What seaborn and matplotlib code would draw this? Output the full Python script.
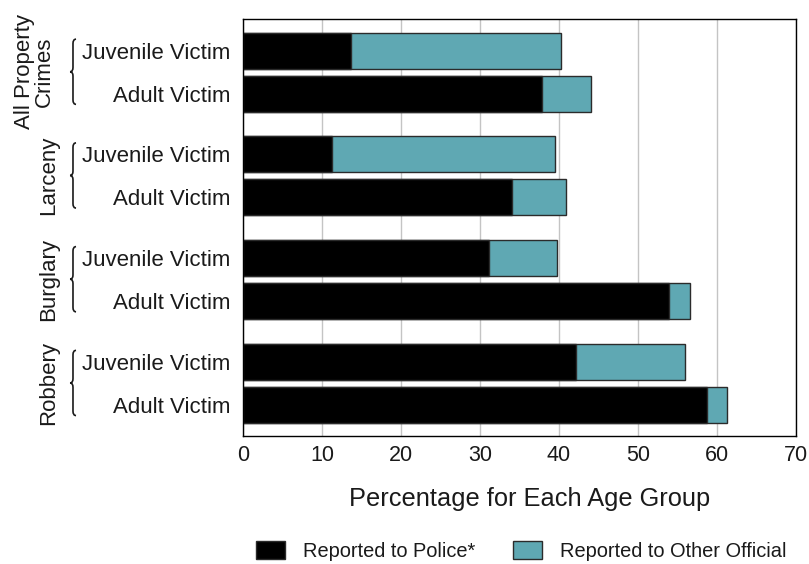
import numpy as np
import pandas as pd
import matplotlib
matplotlib.use("Agg")
import matplotlib.pyplot as plt
from matplotlib.path import Path
from matplotlib.patches import PathPatch, Patch
import seaborn as sns

# values
crime_groups = ["All Property\nCrimes", "Larceny", "Burglary", "Robbery"]
victim_labels = ["Juvenile Victim", "Adult Victim"]
police_juvenile = [13.7, 11.3, 31.1, 42.2]
other_juvenile = [26.6, 28.2, 8.6, 13.7]
police_adult = [37.8, 34.0, 53.9, 58.7]
other_adult = [6.2, 6.9, 2.7, 2.6]
x_ticks = [0, 10, 20, 30, 40, 50, 60, 70]

TEAL = "#5fa8b3"
EDGE = "#2b2b2b"
TEXT = "#1a1a1a"

sns.set_style("white")
plt.rcParams["font.family"] = ["Liberation Sans", "DejaVu Sans"]

# build a long table: one row per bar
group_step = 2.42
rows = []
for i, g in enumerate(crime_groups):
    base = i * group_step
    rows.append({"pos": base, "label": victim_labels[0],
                 "police": police_juvenile[i],
                 "total": police_juvenile[i] + other_juvenile[i]})
    rows.append({"pos": base + 1, "label": victim_labels[1],
                 "police": police_adult[i],
                 "total": police_adult[i] + other_adult[i]})
df = pd.DataFrame(rows)

fig = plt.figure(figsize=(8.09, 5.64), dpi=100)
ax = fig.add_axes([0.3004, 0.2275, 0.6835, 0.7388])

# teal = total (police + other official), black police share drawn on top
sns.barplot(data=df, x="total", y="pos", orient="y", native_scale=True,
            color=TEAL, saturation=1, width=0.84, errorbar=None,
            edgecolor=EDGE, linewidth=1.0, ax=ax)
sns.barplot(data=df, x="police", y="pos", orient="y", native_scale=True,
            color="black", saturation=1, width=0.84, errorbar=None,
            edgecolor=EDGE, linewidth=1.0, ax=ax)

ax.set_xlim(0, 70)
ax.set_ylim(df["pos"].max() + 0.72, -0.74)
ax.set_xticks(x_ticks)
ax.set_xticklabels([str(t) for t in x_ticks], fontsize=15.5, color=TEXT)
ax.set_yticks(df["pos"])
ax.set_yticklabels(df["label"], fontsize=16, color=TEXT)
ax.tick_params(axis="both", length=0)
ax.tick_params(axis="x", pad=7)
ax.tick_params(axis="y", pad=9)
ax.set_ylabel("")
ax.set_xlabel("Percentage for Each Age Group", fontsize=18.3, color=TEXT)
ax.xaxis.set_label_coords(0.518, -0.152)
ax.xaxis.label.set_va("center")

ax.xaxis.grid(True, color="#c4c4c4", linewidth=1.0)
ax.set_axisbelow(True)
for sp in ax.spines.values():
    sp.set_color("black")
    sp.set_linewidth(1.0)

# group labels with curly braces
trans = ax.get_yaxis_transform()
xr, xm, xl = -0.302, -0.3075, -0.3128
r = 0.1
for i, g in enumerate(crime_groups):
    y0 = i * group_step - 0.27
    y1 = i * group_step + 1 + 0.25
    ym = (y0 + y1) / 2
    verts = [(xr, y0), (xm, y0), (xm, y0 + r), (xm, ym - r), (xm, ym), (xl, ym),
             (xm, ym), (xm, ym + r), (xm, y1 - r), (xm, y1), (xr, y1)]
    codes = [Path.MOVETO, Path.CURVE3, Path.CURVE3, Path.LINETO, Path.CURVE3, Path.CURVE3,
             Path.CURVE3, Path.CURVE3, Path.LINETO, Path.CURVE3, Path.CURVE3]
    ax.add_patch(PathPatch(Path(verts, codes), transform=trans, fill=False,
                           edgecolor=TEXT, linewidth=1.2, clip_on=False))
    lx = -0.377 if "\n" in g else -0.352
    ax.text(lx, ym, g, transform=trans, rotation=90, ha="center", va="center",
            fontsize=16, color=TEXT, linespacing=0.95)

handles = [Patch(facecolor="black", edgecolor=EDGE, label="Reported to Police*"),
           Patch(facecolor=TEAL, edgecolor=EDGE, label="Reported to Other Official")]
fig.legend(handles=handles, loc="center", bbox_to_anchor=(0.644, 0.023), ncol=2,
           frameon=False, fontsize=14.4, handlelength=1.45, handleheight=0.95,
           handletextpad=0.9, columnspacing=1.9, labelcolor=TEXT)

fig.savefig("out.png", dpi=100)
